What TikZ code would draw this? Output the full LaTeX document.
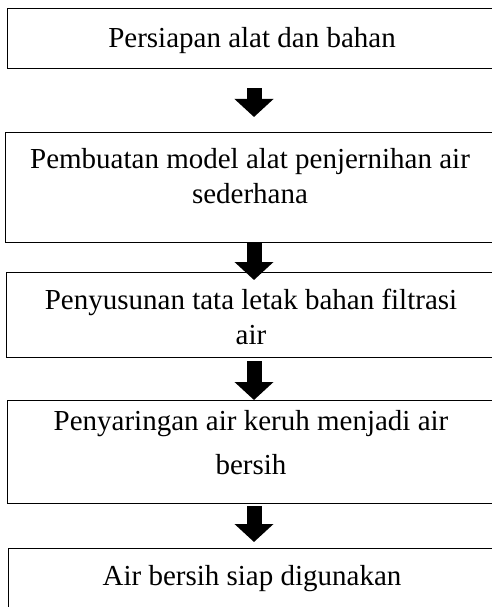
\documentclass[tikz,border=0pt]{standalone}
\usepackage{fontspec}
\setmainfont{Liberation Serif}
\usetikzlibrary{arrows.meta}
\tikzset{
  box/.style={draw=black, line width=1.1pt, rectangle, inner sep=0pt, anchor=north west, minimum width=505pt},
  txt/.style={anchor=north, inner sep=0pt, align=center, font=\fontsize{29}{35}\selectfont},
  blockarrow/.style={line width=15pt, -{Triangle[width=38pt,length=18pt]}, draw=black},
}
\begin{document}
\begin{tikzpicture}[x=1pt,y=-1pt]
\useasboundingbox (0,0) rectangle (492,607);
\clip (0,0) rectangle (492,607);
\fill[white] (0,0) rectangle (492,607);
% boxes
\node[box, minimum height=60pt] (b1) at (7,8) {};
\node[box, minimum height=110pt] (b2) at (5,132) {};
\node[box, minimum height=85pt] (b3) at (6,272) {};
\node[box, minimum height=103pt] (b4) at (7,400) {};
\node[box, minimum height=100pt] (b5) at (8,548) {};
% texts
\node[txt] (t1) at (252,27) {Persiapan alat dan bahan};
\node[txt] (t2) at (250,148) {Pembuatan model alat penjernihan air\\sederhana};
\node[txt] (t3) at (251,289) {Penyusunan tata letak bahan filtrasi\\air};
\node[txt, font=\fontsize{29}{44}\selectfont] (t4) at (251,410) {Penyaringan air keruh menjadi air\\bersih};
\node[txt] (t5) at (252,565) {Air bersih siap digunakan};
% arrows
\coordinate (ax) at (254,0);
\draw[blockarrow, shorten <=19pt, shorten >=15pt] (b1.south -| ax) -- (b2.north -| ax);
\draw[blockarrow, shorten <=0pt, shorten >=-8pt] (b2.south -| ax) -- (b3.north -| ax);
\draw[blockarrow, shorten <=3pt, shorten >=0pt] (b3.south -| ax) -- (b4.north -| ax);
\draw[blockarrow, shorten <=2pt, shorten >=6pt] (b4.south -| ax) -- (b5.north -| ax);
\end{tikzpicture}
\end{document}
